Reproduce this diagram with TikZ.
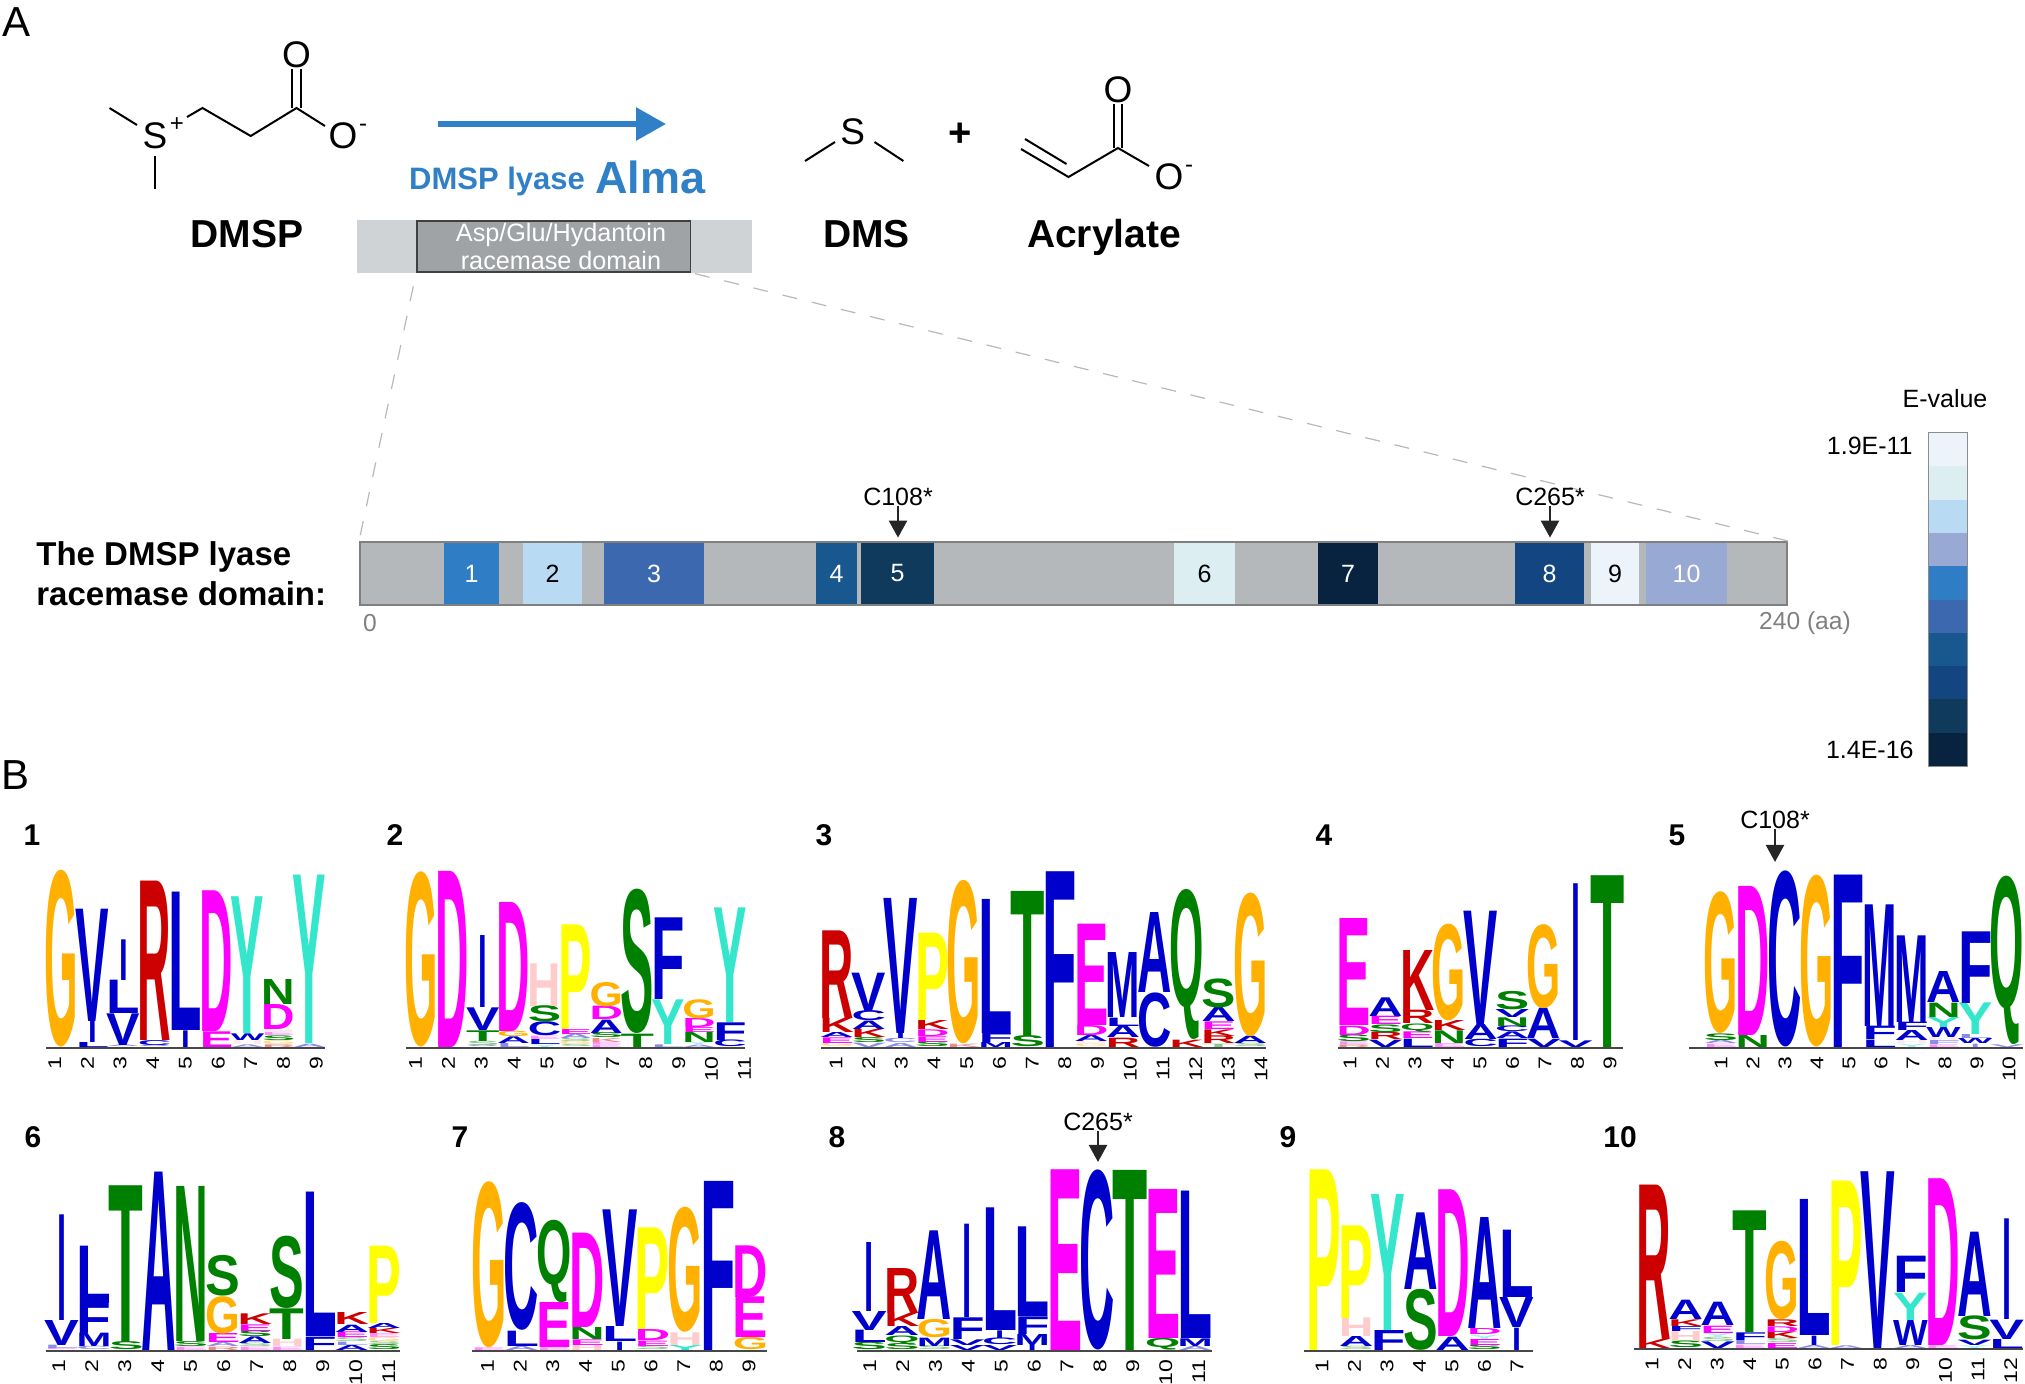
\documentclass[tikz,border=0pt]{standalone}
\usepackage{fontspec}
\setmainfont{Liberation Sans}
\usepackage{graphicx}
\usetikzlibrary{positioning,arrows.meta}
\definecolor{logoA}{HTML}{0000CC}\definecolor{logoC}{HTML}{0000CC}
\definecolor{logoD}{HTML}{FF00FF}\definecolor{logoE}{HTML}{FF00FF}
\definecolor{logoF}{HTML}{0000CC}\definecolor{logoG}{HTML}{FFB000}
\definecolor{logoH}{HTML}{FFCCCC}\definecolor{logoI}{HTML}{0000CC}
\definecolor{logoK}{HTML}{CC0000}\definecolor{logoL}{HTML}{0000CC}
\definecolor{logoM}{HTML}{0000CC}\definecolor{logoN}{HTML}{008000}
\definecolor{logoP}{HTML}{FFFF00}\definecolor{logoQ}{HTML}{008000}
\definecolor{logoR}{HTML}{CC0000}\definecolor{logoS}{HTML}{008000}
\definecolor{logoT}{HTML}{008000}\definecolor{logoV}{HTML}{0000CC}
\definecolor{logoW}{HTML}{0000CC}\definecolor{logoY}{HTML}{33E6CC}
\definecolor{ev1}{HTML}{EDF3FB}\definecolor{ev2}{HTML}{DCEEF2}
\definecolor{ev3}{HTML}{B9DAF3}\definecolor{ev4}{HTML}{98A9D4}
\definecolor{ev5}{HTML}{2F7EC5}\definecolor{ev6}{HTML}{3B68AE}
\definecolor{ev7}{HTML}{18588F}\definecolor{ev8}{HTML}{134680}
\definecolor{ev9}{HTML}{0F3A5C}\definecolor{ev10}{HTML}{08233F}
\definecolor{almablue}{HTML}{3080C8}
\definecolor{domainlight}{HTML}{CFD3D6}
\definecolor{domaindark}{HTML}{9FA3A6}
\definecolor{barfill}{HTML}{B4B8BB}
\def\letterI{I}
\newcommand{\seqlogo}[8]{
\foreach \logocol [count=\colnum] in {#8} {
  \pgfmathsetmacro\colx{#2+(\colnum-.5)*#4}
  \pgfmathsetmacro\tickx{#6+(\colnum-1)*#7}
  \gdef\logotop{0}
  \foreach \letr/\hgt [count=\k] in \logocol {
    \pgfmathsetmacro\ypos{#3-\logotop/3}
    \pgfmathsetmacro\hpt{\hgt/6}
    \ifx\letr\letterI\pgfmathsetmacro\wpt{#4*.14}\else\pgfmathsetmacro\wpt{#4*.54}\fi
    \ifdim\hgt pt<14pt\def\pale{!45}\else\def\pale{}\fi
    \node[logochar,name=#1-\colnum-\k] at (\colx,\ypos) {\resizebox*{\wpt pt}{\hpt pt}{\textcolor{logo\letr\pale}{\letr}}};
    \pgfmathsetmacro\logonext{\logotop+\hgt}
    \xdef\logotop{\logonext}
  }
  \node[logotick] (#1-tick\colnum) at (\tickx,#3+9) {\colnum};
  \xdef\logocount{\colnum}
}
\pgfmathsetmacro\axisend{#2+\logocount*#4}
\coordinate (#1-start) at (#5,#3+1);
\coordinate (#1-end) at (\axisend,#3+1);
\draw[logoaxis] (#1-start) -- (#1-end);
}
\begin{document}
\begin{tikzpicture}[x=.5pt,y=-.5pt,
panel/.style={inner sep=0,font=\fontsize{21}{21}\selectfont},
product/.style={inner sep=0,font=\fontsize{19.5}{19.5}\bfseries\selectfont},
atom/.style={inner sep=0,font=\fontsize{18.5}{18.5}\selectfont},
charge/.style={inner sep=0,font=\fontsize{12}{12}\selectfont},
bond/.style={line width=1pt,black},
small/.style={inner sep=0,font=\fontsize{12.5}{12.5}\selectfont},
axisnote/.style={inner sep=0,text=black!50,font=\fontsize{12.3}{12.3}\selectfont},
motif/.style={inner sep=0,font=\fontsize{15}{15}\bfseries\selectfont},
segment/.style={inner sep=0,minimum height=30.5pt,font=\fontsize{12.5}{12.5}\selectfont},
evcell/.style={inner sep=0,minimum width=19pt,minimum height=16.65pt},
pointer/.style={line width=1.2pt,black!85,-{Triangle[length=8.5pt,width=9pt]}},
zoomline/.style={line width=.6pt,black!28,dash pattern=on 7.5pt off 7.5pt},
logochar/.style={inner sep=0,outer sep=0,anchor=south,font=\bfseries},
logotick/.style={rotate=90,yscale=.8,anchor=east,inner sep=0,text=black,font=\fontsize{11.5}{11.5}\selectfont},
logoaxis/.style={line width=1.3pt,black!72}]
\useasboundingbox (0,0) rectangle (2025,1383);
\node[panel] (panelA) at (17,22) {A};
\node[panel] (panelB) at (16,775) {B};

\node[atom] (s1) at (155,136) {S};
\node[charge] (s1plus) at (177,125) {+};
\node[atom] (o1) at (296.5,55) {O};
\node[atom] (o2) at (343,136) {O};
\node[charge] (o2minus) at (363,128) {-};
\coordinate (me1) at (109.5,108);
\coordinate (me2) at (155,189);
\coordinate (c1) at (202.5,108);
\coordinate (c2) at (250.7,136);
\coordinate (c3) at (296.5,108);
\draw[bond] (me1) -- (137,125);
\draw[bond] (s1.south) ++(0,6) -- (me2);
\draw[bond] (187,117) -- (c1) -- (c2) -- (c3) -- (325,126);
\draw[bond] ([xshift=-2.2pt]c3) -- ([xshift=-2.2pt]o1.south);
\draw[bond] ([xshift=2.2pt]c3) -- ([xshift=2.2pt]o1.south);

\coordinate (arrowa) at (438,124);
\coordinate (arrowb) at (666,124);
\draw[line width=3pt,almablue,-{Triangle[length=15pt,width=16pt]}] (arrowa) -- (arrowb);
\node[inner sep=0,text=almablue,font=\fontsize{15.5}{15.5}\bfseries\selectfont] (lyase) at (497,181) {DMSP lyase};
\node[inner sep=0,text=almablue,font=\fontsize{22.5}{22.5}\bfseries\selectfont] (alma) at (650.5,177) {Alma};

\node[product] (dmsp) at (246.7,234) {DMSP};
\node[product] (dms) at (866.6,234) {DMS};
\node[product] (acrylate) at (1104,237) {Acrylate};

\node[inner sep=0,fill=domainlight,minimum width=197.5pt,minimum height=26.5pt] (domain) at (554.7,246.5) {};
\node[inner sep=0,fill=domaindark,draw=black!75,line width=.7pt,minimum width=136.8pt,minimum height=25.5pt] (racemase) at (553.7,246.5) {};
\node[inner sep=0,text=white,font=\fontsize{12.6}{12.6}\selectfont] (domaina) at (561,235) {Asp/Glu/Hydantoin};
\node[inner sep=0,text=white,font=\fontsize{12.6}{12.6}\selectfont] (domainb) at (561,260.5) {racemase domain};

\node[atom] (s2) at (852.6,132) {S};
\coordinate (me3) at (805,161);
\coordinate (me4) at (903.4,161);
\draw[bond] (me3) -- (835,142);
\draw[bond] (874.5,142) -- (me4);
\node[inner sep=0,font=\fontsize{20}{20}\bfseries\selectfont] (plus) at (960.6,135) {+};

\node[atom] (o3) at (1118,90) {O};
\node[atom] (o4) at (1169,177) {O};
\node[charge] (o4minus) at (1189,169) {-};
\coordinate (c4) at (1021,149);
\coordinate (c5) at (1068.5,177);
\coordinate (c6) at (1118,148);
\draw[bond] (c4) -- (c5) -- (c6) -- (1149,166);
\draw[bond] (1025,139) -- (1066.5,164);
\draw[bond] ([xshift=-2.2pt]c6) -- ([xshift=-2.2pt]o3.south);
\draw[bond] ([xshift=2.2pt]c6) -- ([xshift=2.2pt]o3.south);

\node[inner sep=0,fill=barfill,draw=black!50,line width=1pt,minimum width=713.5pt,minimum height=31.5pt] (domainbar) at (1073.5,573.5) {};
\draw[zoomline,shorten <=7pt,shorten >=3pt] (racemase.south west) -- (domainbar.north west);
\draw[zoomline,shorten <=2pt] (racemase.south east) -- (domainbar.north east);
\foreach \num/\xa/\xb/\evc/\txt in {1/444/499/ev5/white,2/523/582/ev3/black,3/604/704/ev6/white,4/816/857/ev7/white,5/861/934/ev9/white,6/1174/1235/ev2/black,7/1318/1378/ev10/white,8/1515/1584/ev8/white,9/1591/1639/ev1/black,10/1646/1727/ev4/white}
  \node[segment,fill=\evc,text=\txt,minimum width={(\xb-\xa)*.5pt}] (seg\num) at ({(\xa+\xb)/2},573.5) {\num};
\node[axisnote] (start) at (370,623) {0};
\node[axisnote] (stop) at (1805,623) {240 (aa)};
\node[inner sep=0,align=left,anchor=west,font=\fontsize{16.5}{20}\bfseries\selectfont] (domainname) at (36,574) {The DMSP lyase\\racemase domain:};
\node[small] (c108) at (898,497) {C108*};
\node[small] (c265) at (1550,497) {C265*};
\draw[pointer,shorten >=2.5pt] (c108.south) -- (c108.south |- seg5.north);
\draw[pointer,shorten >=2.5pt] (c265.south) -- (c265.south |- seg8.north);

\foreach \n in {1,...,10}
  \node[evcell,fill=ev\n] (cell\n) at (1948,{433+(\n-.5)*33.3}) {};
\draw[black!45,line width=.6pt] (cell1.north west) rectangle (cell10.south east);
\node[small] (evalue) at (1945,399) {E-value};
\node[small,anchor=east] (evtop) at (1913,446) {1.9E-11};
\node[small,anchor=east] (evbot) at (1914,750) {1.4E-16};

\node[motif] (m1) at (32,835) {1};
\node[motif] (m2) at (395,835) {2};
\node[motif] (m3) at (824,835) {3};
\node[motif] (m4) at (1324,835) {4};
\node[motif] (m5) at (1677,835) {5};
\node[motif] (m6) at (33,1137) {6};
\node[motif] (m7) at (460,1137) {7};
\node[motif] (m8) at (837,1137) {8};
\node[motif] (m9) at (1288,1137) {9};
\node[motif] (m10) at (1620,1137) {10};

\seqlogo{a}{46}{1047}{31}{46}{54.7}{32.7}{{G/530},{L/15,I/63,V/337},{A/5,V/95,L/100,I/122},{A/5,C/15,R/478},{I/50,L/415},{E/47,D/422},{A/8,H/12,W/20,Y/410},{R/8,G/12,S/14,E/10,H/10,D/75,N/75},{A/10,Y/505}}
\seqlogo{b}{405.5}{1047}{30.9}{405.5}{415.5}{32.9}{{G/525},{D/528},{A/5,S/13,T/32,V/68,I/216},{L/12,A/20,G/16,D/387},{Y/8,L/15,E/10,C/42,S/48,H/128},{S/6,G/10,S/10,A/13,E/15,P/314},{E/8,E/7,K/12,S/15,A/40,D/40,G/73},{T/40,S/433},{L/8,Y/134,F/245},{A/7,Y/7,N/30,E/15,D/27,G/57},{C/20,F/53,Y/344}}
\seqlogo{c}{821}{1047}{31.8}{821}{836}{32.7}{{G/12,E/17,A/15,K/43,R/263},{V/13,S/15,K/25,A/25,C/30,V/115},{A/12,C/13,I/15,V/405},{S/15,E/17,D/20,K/27,P/262},{K/10,G/490},{M/15,F/27,L/402},{S/33,T/435},{F/527},{G/8,H/10,A/18,D/30,E/304},{R/28,A/35,L/25,M/195},{C/163,A/240},{K/22,Q/450},{T/10,R/23,K/20,E/23,A/42,S/87},{S/10,A/22,G/430}}
\seqlogo{d}{1338}{1047}{31.7}{1338}{1350}{32.5}{{R/8,E/8,S/20,D/28,E/321},{V/22,R/22,S/23,E/25,A/56},{L/25,E/20,Q/25,R/40,K/180},{E/12,N/38,K/30,G/290},{C/22,A/45,V/340},{F/25,A/20,C/17,N/26,V/24,S/55},{V/25,A/91,G/252},{V/20,I/470},{T/515}}
\seqlogo{e}{1705}{1047}{31.8}{1689}{1721}{32}{{E/10,A/10,S/20,G/425},{N/36,D/447},{C/528},{G/515},{F/517},{L/22,F/40,M/365},{Y/10,H/10,A/30,F/25,M/260},{E/8,F/12,H/10,W/30,Y/30,N/43,A/93},{I/10,W/15,L/12,Y/95,F/215},{V/8,Q/505}}
\seqlogo{f}{45.8}{1350}{32.2}{45.8}{58.7}{33}{{E/5,L/10,V/75,I/317},{C/10,M/40,F/90,L/172},{S/24,T/470},{A/535},{E/10,S/15,N/465},{R/10,A/12,E/27,G/112,S/122},{E/10,S/10,A/20,S/17,E/20,K/32},{E/10,H/22,T/92,S/217},{F/40,L/433},{A/15,L/10,S/12,E/17,A/22,K/36},{S/15,S/10,G/12,E/12,K/16,A/15,P/232}}
\seqlogo{g}{472.6}{1350}{32.7}{472}{487.5}{32.7}{{E/8,G/498},{A/12,L/46,C/383},{E/8,E/135,Q/247},{H/15,E/17,N/36,D/283},{I/25,L/45,V/350},{S/12,E/16,D/33,P/305},{Y/15,H/38,G/375},{F/507},{G/37,E/122,D/155}}
\seqlogo{h}{853}{1350}{32.6}{857}{869.7}{32.9}{{S/22,L/37,V/57,I/207},{S/18,Q/25,A/27,K/40,R/135},{S/12,M/25,G/55,A/266},{V/15,V/17,F/65,I/280},{V/15,C/20,I/23,L/368},{I/15,M/33,F/53,L/269},{E/542},{C/540},{T/540},{Q/35,E/447},{A/12,M/23,L/442}}
\seqlogo{i}{1308}{1350}{32.1}{1304}{1322}{32.5}{{P/542},{S/10,A/30,H/56,P/278},{F/60,Y/408},{S/183,A/230},{A/40,D/440},{S/15,E/18,Y/13,D/18,A/333},{I/67,V/90,L/202}}
\seqlogo{j}{1637.5}{1348}{32.1}{1634}{1652}{32.6}{{K/27,R/463},{S/20,H/30,F/15,K/20,A/58},{V/20,S/13,Y/12,E/22,A/70},{E/10,L/13,F/23,T/365},{E/15,S/13,K/20,D/17,R/20,G/235},{A/9,I/28,L/408},{A/8,P/493},{V/530},{A/9,W/75,Y/82,F/109},{E/8,D/500},{Y/8,V/16,S/72,A/253},{L/27,V/58,I/302}}

\node[small] (c108b) at (1775,820) {C108*};
\node[small] (c265b) at (1098,1122) {C265*};
\draw[pointer,shorten >=4.5pt] (c108b.south) -- (c108b.south |- e-3-1.north);
\draw[pointer,shorten >=4pt] (c265b.south) -- (c265b.south |- h-8-1.north);
\end{tikzpicture}
\end{document}
